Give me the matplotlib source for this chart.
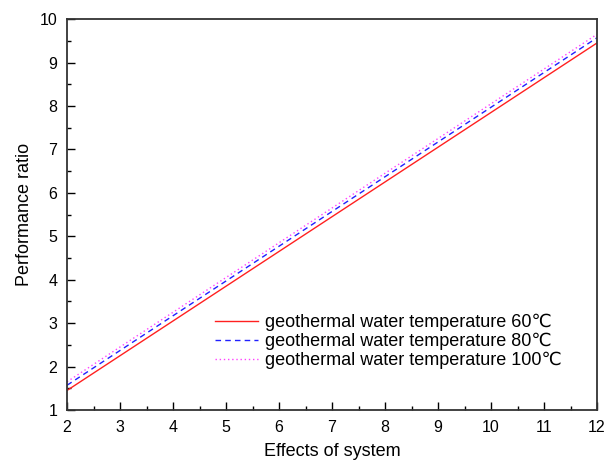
import matplotlib
matplotlib.use("Agg")
import matplotlib.pyplot as plt
from matplotlib.ticker import MultipleLocator

# ── Dati ─────────────────────────────────────────────────────────────────────
effects = [2, 3, 4, 5, 6, 7, 8, 9, 10, 11, 12]
pr_60  = [1.45, 2.25, 3.05, 3.85, 4.65, 5.45, 6.25, 7.05, 7.85, 8.65, 9.45]
pr_80  = [1.57, 2.37, 3.17, 3.97, 4.77, 5.57, 6.37, 7.17, 7.97, 8.77, 9.57]
pr_100 = [1.65, 2.45, 3.25, 4.05, 4.85, 5.65, 6.45, 7.25, 8.05, 8.85, 9.65]
labels = ["geothermal water temperature 60\u2103",
          "geothermal water temperature 80\u2103",
          "geothermal water temperature 100\u2103"]
# ─────────────────────────────────────────────────────────────────────────────

plt.rcParams["font.family"] = ["Liberation Sans", "DejaVu Sans"]

fig = plt.figure(figsize=(6.12, 4.61), dpi=100)
ax = fig.add_axes([0.1095, 0.1106, 0.866, 0.848])

ax.plot(effects, pr_60, color="#ff2020", linestyle="-", linewidth=1.0, label=labels[0])
ax.plot(effects, pr_80, color="#2020ff", linestyle=(0, (4, 3)), linewidth=1.0, label=labels[1])
ax.plot(effects, pr_100, color="#ff40ff", linestyle=(0, (1, 2)), linewidth=1.0, label=labels[2])

ax.set_xlim(2, 12)
ax.set_ylim(1, 10)
ax.xaxis.set_major_locator(MultipleLocator(1))
ax.xaxis.set_minor_locator(MultipleLocator(0.5))
ax.yaxis.set_major_locator(MultipleLocator(1))
ax.yaxis.set_minor_locator(MultipleLocator(0.5))
ax.tick_params(which="both", direction="in", top=False, right=False,
               labelsize=11.5, width=1.0)
ax.tick_params(which="major", length=6, pad=7)
ax.tick_params(which="minor", length=3)
for sp in ax.spines.values():
    sp.set_linewidth(1.3)
    sp.set_color("#333333")

ax.set_xlabel("Effects of system", fontsize=13, labelpad=6)
ax.set_ylabel("Performance ratio", fontsize=13, labelpad=5)

ax.legend(loc="upper left", bbox_to_anchor=(0.265, 0.265), frameon=False,
          fontsize=13, handlelength=2.4, handletextpad=0.4, labelspacing=0.1,
          borderaxespad=0)

fig.savefig("out.png", dpi=100)
